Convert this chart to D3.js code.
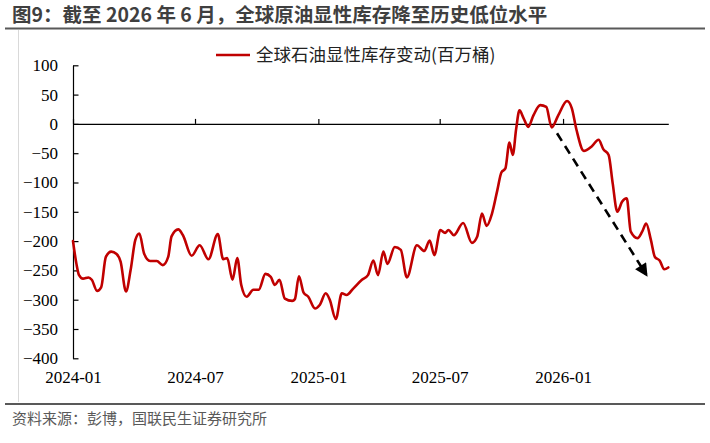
<!DOCTYPE html>
<html><head><meta charset="utf-8">
<script src="https://cdn.jsdelivr.net/npm/d3@7/dist/d3.min.js"></script>
<style>
html,body{margin:0;padding:0;background:#fff;}
svg{display:block;}
</style></head>
<body>
<svg id="c" width="710" height="443"></svg>
<script>
// ---- data ----
const titleText = "图9：截至 2026 年 6 月，全球原油显性库存降至历史低位水平";
const seriesName = "全球石油显性库存变动(百万桶)";
const sourceText = "资料来源：彭博，国联民生证券研究所";
const dates = [
"2024-01-01","2024-01-06","2024-01-10","2024-01-16","2024-01-24","2024-01-29","2024-02-06","2024-02-12","2024-02-19","2024-02-27",
"2024-03-06","2024-03-12","2024-03-20","2024-03-27","2024-04-03","2024-04-09","2024-04-16","2024-04-25","2024-05-05","2024-05-14",
"2024-05-22","2024-05-27","2024-06-06","2024-06-13","2024-06-26","2024-07-08","2024-07-21","2024-08-04","2024-08-12","2024-08-18",
"2024-08-26","2024-09-02","2024-09-08","2024-09-16","2024-09-26","2024-10-04","2024-10-14","2024-10-22","2024-10-28","2024-11-04",
"2024-11-12","2024-11-23","2024-11-27","2024-12-03","2024-12-10","2024-12-17","2024-12-27","2025-01-03","2025-01-12","2025-01-18",
"2025-01-27","2025-02-05","2025-02-12","2025-02-22","2025-03-07","2025-03-16","2025-03-24","2025-03-31","2025-04-08","2025-04-14",
"2025-04-25","2025-05-04","2025-05-13","2025-05-28","2025-06-08","2025-06-16","2025-06-23","2025-07-02","2025-07-09","2025-07-14",
"2025-07-22","2025-08-05","2025-08-18","2025-08-26","2025-09-02","2025-09-09","2025-09-17","2025-09-25","2025-10-01","2025-10-07",
"2025-10-13","2025-10-18","2025-10-23","2025-10-28","2025-11-03","2025-11-10","2025-11-18","2025-11-28","2025-12-07","2025-12-15",
"2025-12-25","2026-01-07","2026-01-14","2026-01-21","2026-02-01","2026-02-13","2026-02-23","2026-03-02","2026-03-10","2026-03-16",
"2026-03-23","2026-03-30","2026-04-06","2026-04-12","2026-04-22","2026-04-29","2026-05-05","2026-05-12","2026-05-18","2026-05-25",
"2026-06-01","2026-06-07"];
const values = [
-200,-238,-258,-264,-262,-266,-285,-279,-227,-218,
-222,-235,-286,-249,-198,-187,-221,-234,-234,-241,
-227,-192,-180,-190,-225,-207,-231,-188,-231,-229,
-266,-229,-275,-295,-283,-283,-256,-261,-275,-266,
-298,-302,-299,-260,-288,-295,-315,-309,-289,-300,
-333,-289,-292,-281,-266,-258,-233,-258,-218,-239,
-210,-215,-262,-207,-217,-199,-224,-181,-186,-181,
-190,-169,-203,-192,-153,-174,-153,-113,-83,-76,
-32,-53,-9,23,10,-5,15,32,29,-6,
15,39,27,-10,-46,-38,-27,-43,-53,-101,
-150,-133,-127,-184,-195,-184,-170,-198,-227,-233,
-248,-245];
const yTicks = [100,50,0,-50,-100,-150,-200,-250,-300,-350,-400];
const xTickLabels = ["2024-01","2024-07","2025-01","2025-07","2026-01"];
const xDomain = ["2024-01-01","2026-06-07"];
const arrowFrom = {date:"2025-12-23", value:-16};
const arrowTo = {date:"2026-05-05", value:-257};

// ---- chart ----
const SERIF = "'Liberation Serif', 'Times New Roman', Tinos, 'DejaVu Serif', serif";
const CJK = "'Noto Sans CJK SC', 'Noto Sans', sans-serif";
const parse = d3.timeParse("%Y-%m-%d");
const parseM = d3.timeParse("%Y-%m");
const data = dates.map((d,i)=>({date:parse(d), value:values[i]}));
const svg = d3.select("#c");

const x = d3.scaleTime().domain(xDomain.map(parse)).range([73, 668.3]);
const y = d3.scaleLinear().domain([-400,100]).range([358.3, 65.3]);

// title
svg.append("text").attr("x",12).attr("y",22)
  .style("font-family",CJK).style("font-weight","bold").style("font-size","19.5px").style("fill","#3f3f3f")
  .text(titleText);
svg.append("line").attr("x1",5).attr("x2",705).attr("y1",28.5).attr("y2",28.5)
  .attr("stroke","#595959").attr("stroke-width",2);
// left light border
svg.append("line").attr("x1",18.5).attr("x2",18.5).attr("y1",30).attr("y2",402)
  .attr("stroke","#d9d9d9").attr("stroke-width",1);

// footer
svg.append("line").attr("x1",5).attr("x2",705).attr("y1",404).attr("y2",404)
  .attr("stroke","#595959").attr("stroke-width",2);
svg.append("text").attr("x",12).attr("y",424)
  .style("font-family",CJK).style("font-size","15px").style("fill","#595959")
  .text(sourceText);

// y axis
const yAxis = svg.append("g").attr("transform",`translate(${x.range()[0]},0)`)
  .call(d3.axisLeft(y).tickValues(yTicks).tickSizeInner(-5.5).tickSizeOuter(0).tickPadding(15));
yAxis.selectAll("text").style("font-family",SERIF).style("font-size","17px").style("fill","#000");
yAxis.selectAll("line,path").attr("stroke","#000").attr("stroke-width",1.2);

// zero line with upward ticks
const xTickDates = xTickLabels.map(parseM);
const zAxis = svg.append("g").attr("transform",`translate(0,${y(0)})`)
  .call(d3.axisTop(x).tickValues(xTickDates).tickSizeInner(5).tickSizeOuter(0).tickFormat(""));
zAxis.selectAll("line,path").attr("stroke","#000").attr("stroke-width",1.2);

// x labels at bottom
const xAxis = svg.append("g").attr("transform",`translate(0,${y(-400)})`)
  .call(d3.axisBottom(x).tickValues(xTickDates).tickSize(0).tickPadding(13).tickFormat(d3.timeFormat("%Y-%m")));
xAxis.select(".domain").remove();
xAxis.selectAll("text").style("font-family",SERIF).style("font-size","17px").style("fill","#000");

// series line
const line = d3.line().x(d=>x(d.date)).y(d=>y(d.value)).curve(d3.curveMonotoneX);
svg.append("path").datum(data).attr("d",line)
  .attr("fill","none").attr("stroke","#c00000").attr("stroke-width",2.6)
  .attr("stroke-linejoin","round").attr("stroke-linecap","round");

// dashed arrow
const defs = svg.append("defs");
defs.append("marker").attr("id","ah").attr("viewBox","0 0 10 10").attr("refX",8).attr("refY",5)
  .attr("markerWidth",5.5).attr("markerHeight",5).attr("orient","auto").attr("markerUnits","strokeWidth")
  .append("path").attr("d","M0,0 L10,5 L0,10 Z").attr("fill","#000");
const ax1 = x(parse(arrowFrom.date)), ay1 = y(arrowFrom.value);
const ax2 = x(parse(arrowTo.date)), ay2 = y(arrowTo.value);
svg.append("line").attr("x1",ax1).attr("y1",ay1).attr("x2",ax2).attr("y2",ay2)
  .attr("stroke","#000").attr("stroke-width",2.6).attr("stroke-dasharray","9,6")
  .attr("marker-end","url(#ah)");

// legend
svg.append("line").attr("x1",216).attr("x2",250).attr("y1",55).attr("y2",55)
  .attr("stroke","#c00000").attr("stroke-width",2.6);
svg.append("text").attr("x",256).attr("y",61)
  .style("font-family",CJK).style("font-size","17.5px").style("fill","#222")
  .text(seriesName);
</script>
</body></html>
